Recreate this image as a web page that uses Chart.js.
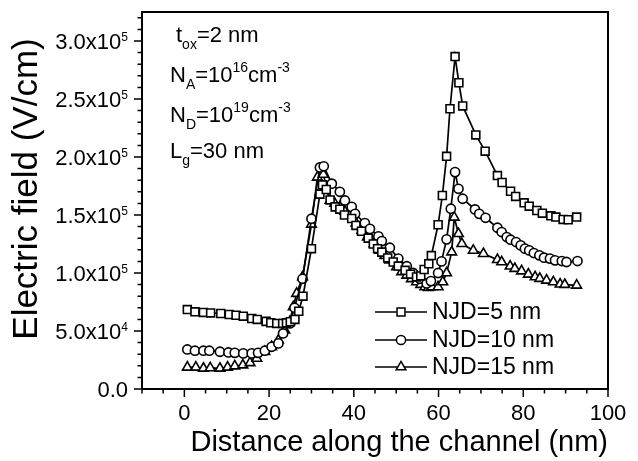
<!DOCTYPE html>
<html>
<head>
<meta charset="utf-8">
<script src="https://cdn.jsdelivr.net/npm/chart.js@4.4.1/dist/chart.umd.min.js"></script>
<style>
  html, body { margin: 0; padding: 0; background: #fff; }
  canvas { display: block; }
</style>
</head>
<body>
<canvas id="chart" width="638" height="461"></canvas>
<script>
const FONT = '"Liberation Sans", Arial, Helvetica, sans-serif';

// NJD = 5 nm (squares)
const xNJD5 = [0.7, 2.5, 4.5, 6.2, 8.6, 10.6, 12.2, 13.9, 15.9, 17.2, 19.3, 20.4, 21.8, 23.2, 24.1, 25.0, 26.1, 27.0, 28.0, 30.0,
  32.0, 32.6, 33.5, 34.4, 35.6, 36.7, 37.8, 39.5, 40.5, 41.8, 43.4, 44.6, 45.6, 46.6, 48.0, 49.3, 50.5, 52.1, 53.4, 54.8,
  55.8, 56.6, 57.7, 58.3, 59.9, 60.9, 61.9, 62.7, 63.9, 64.8, 65.7, 68.8, 71.0, 73.9, 75.0, 77.0, 78.2, 80.2, 81.4, 83.2,
  84.5, 86.5, 87.7, 89.4, 90.6, 92.6];
const yNJD5 = [68500, 66500, 66000, 65600, 65100, 64200, 63600, 62800, 60800, 60000, 58300, 57100, 56500, 56500, 57000, 58000, 60000, 67000, 80000, 121000,
  168000, 176000, 172000, 163000, 157000, 155000, 150000, 147000, 141000, 136000, 130000, 125000, 121000, 118000, 113000, 109500, 106000, 102300, 99000, 96600,
  97500, 103000, 108000, 115000, 141600, 166800, 200600, 241600, 286600, 264000, 244000, 219000, 205000, 184000, 178000, 170500, 166000, 160500, 157600, 153900,
  151600, 149300, 148200, 146200, 145900, 148200];

// NJD = 10 nm (circles)
const xNJD10 = [0.7, 2.5, 4.5, 5.9, 8.4, 10.4, 11.9, 13.9, 15.9, 17.4, 19.0, 20.6, 22.2, 23.3, 24.9, 26.0, 27.9, 30.0, 32.0, 32.9,
  34.8, 36.7, 37.9, 39.5, 40.3, 42.6, 43.8, 45.8, 46.6, 48.5, 50.5, 52.5, 54.0, 55.6, 57.2, 58.2, 59.9, 60.7, 61.9, 62.9,
  63.9, 64.7, 65.7, 68.6, 69.6, 71.1, 73.9, 74.9, 76.1, 77.0, 78.3, 79.4, 80.4, 81.4, 82.5, 83.8, 84.9, 86.3, 87.5, 89.1,
  90.2, 92.8];
const yNJD10 = [34100, 33000, 33000, 33000, 32100, 31500, 31200, 30700, 30700, 31200, 33000, 36400, 39300, 47900, 56500, 70000, 95000, 146800, 191000, 192000,
  177000, 170000, 162500, 157000, 151000, 143000, 138000, 131600, 127500, 121800, 112400, 105800, 100000, 95000, 91000, 93000, 100000, 110000, 129000, 155400,
  187000, 172600, 164000, 154800, 151000, 147600, 139000, 135300, 131000, 128700, 126700, 123800, 121000, 119500, 117200, 115200, 113200, 112400, 110900, 110300,
  109500, 110300];

// NJD = 15 nm (triangles)
const xNJD15 = [0.7, 2.7, 4.5, 6.1, 8.4, 10.2, 11.9, 13.8, 15.5, 17.1, 19.0, 20.6, 22.2, 23.7, 24.9, 25.7, 26.5, 27.9, 30.0, 31.4,
  32.8, 34.4, 35.5, 36.7, 37.9, 39.1, 40.5, 41.9, 43.2, 44.8, 46.2, 47.3, 48.5, 50.1, 51.3, 52.5, 53.6, 54.8, 55.8, 56.8,
  57.6, 58.4, 59.9, 61.0, 61.9, 63.1, 63.7, 64.7, 65.5, 68.2, 70.6, 73.9, 74.9, 76.9, 78.0, 79.6, 81.2, 82.8, 83.9, 85.5,
  87.1, 88.7, 89.8, 92.6];
const yNJD15 = [18700, 18700, 17800, 18200, 17800, 18700, 19800, 20600, 22600, 26400, 32100, 36400, 42100, 50700, 58000, 70800, 82300, 96600, 142000, 182500,
  185000, 162500, 160000, 157000, 153000, 149600, 143000, 136700, 131000, 125000, 119500, 115000, 111000, 105200, 101000, 98000, 95000, 92300, 90000, 88000,
  87400, 88000, 88000, 92300, 100000, 118000, 148000, 133900, 125300, 119500, 116700, 111500, 109500, 105800, 103800, 101700, 98900, 96600, 95200, 93700,
  92300, 90300, 90000, 89400];

const seriesNames = ['NJD=5 nm', 'NJD=10 nm', 'NJD=15 nm'];
const seriesMarkers = ['rect', 'circle', 'triangle'];
const markerRadius = [5.6, 4.6, 5.6];

const xTicks = [0, 20, 40, 60, 80, 100];
const yTicks = [0, 50000, 100000, 150000, 200000, 250000, 300000];
const yTickText = [['0.0', ''], ['5.0x10', '4'], ['1.0x10', '5'], ['1.5x10', '5'], ['2.0x10', '5'], ['2.5x10', '5'], ['3.0x10', '5']];
const yTitle = 'Electric field (V/cm)';

// text block in the upper left, pieces: [text, 'n' | 'sub' | 'sup']
const notes = [
  [['t', 'n'], ['ox', 'sub'], ['=2 nm', 'n']],
  [['N', 'n'], ['A', 'sub'], ['=10', 'n'], ['16', 'sup'], ['cm', 'n'], ['-3', 'sup']],
  [['N', 'n'], ['D', 'sub'], ['=10', 'n'], ['19', 'sup'], ['cm', 'n'], ['-3', 'sup']],
  [['L', 'n'], ['g', 'sub'], ['=30 nm', 'n']]
];

function toPoints(xs, ys) {
  return xs.map((x, i) => ({ x, y: ys[i] }));
}

function marker(ctx, style, r, x, y) {
  ctx.beginPath();
  if (style === 'rect') {
    const s = Math.SQRT1_2 * r;
    ctx.rect(x - s, y - s, 2 * s, 2 * s);
  } else if (style === 'circle') {
    ctx.arc(x, y, r, 0, Math.PI * 2);
  } else {
    let a = 0;
    ctx.moveTo(x + Math.sin(a) * r, y - Math.cos(a) * r);
    for (let k = 0; k < 2; k++) {
      a += Math.PI * 2 / 3;
      ctx.lineTo(x + Math.sin(a) * r, y - Math.cos(a) * r);
    }
    ctx.closePath();
  }
  ctx.fillStyle = '#fff';
  ctx.fill();
  ctx.stroke();
}

function drawRich(ctx, parts, x, y, size) {
  let cx = x;
  parts.forEach(([t, kind]) => {
    const small = kind !== 'n';
    ctx.font = `${small ? Math.round(size * 0.64) : size}px ${FONT}`;
    const dy = kind === 'sub' ? size * 0.32 : kind === 'sup' ? -size * 0.45 : 0;
    ctx.fillText(t, cx, y + dy);
    cx += ctx.measureText(t).width;
  });
}

const decor = {
  id: 'decor',
  afterDraw(chart) {
    const { ctx, chartArea: a, scales: { x, y } } = chart;
    ctx.save();
    ctx.strokeStyle = '#000';
    ctx.fillStyle = '#000';

    // frame
    ctx.lineWidth = 2;
    ctx.strokeRect(a.left, a.top, a.right - a.left, a.bottom - a.top);

    // tick marks (major + minor)
    ctx.lineWidth = 1.5;
    ctx.beginPath();
    for (let v = -10; v <= 100; v += 5) {
      const px = x.getPixelForValue(v);
      const len = v % 20 === 0 ? 8 : 4.5;
      ctx.moveTo(px, a.bottom);
      ctx.lineTo(px, a.bottom + len);
    }
    for (let v = 0; v <= 320000; v += 10000) {
      const py = y.getPixelForValue(v);
      const len = v % 50000 === 0 ? 8 : 4.5;
      ctx.moveTo(a.left, py);
      ctx.lineTo(a.left - len, py);
    }
    ctx.stroke();

    // x tick labels
    ctx.font = `22px ${FONT}`;
    ctx.textAlign = 'center';
    ctx.textBaseline = 'middle';
    xTicks.forEach(v => ctx.fillText(String(v), x.getPixelForValue(v), a.bottom + 25));

    // y tick labels with exponents
    ctx.textBaseline = 'alphabetic';
    ctx.textAlign = 'left';
    yTicks.forEach((v, i) => {
      const py = y.getPixelForValue(v);
      const [base, exp] = yTickText[i];
      ctx.font = `22px ${FONT}`;
      const wb = ctx.measureText(base).width;
      ctx.font = `12px ${FONT}`;
      const we = exp ? ctx.measureText(exp).width : 0;
      const x0 = a.left - 14 - wb - we;
      ctx.font = `22px ${FONT}`;
      ctx.fillText(base, x0, py + 8);
      if (exp) {
        ctx.font = `12px ${FONT}`;
        ctx.fillText(exp, x0 + wb, py - 0.5);
      }
    });

    // y title
    ctx.save();
    ctx.translate(27, 189);
    ctx.rotate(-Math.PI / 2);
    ctx.font = `35px ${FONT}`;
    ctx.textAlign = 'center';
    ctx.textBaseline = 'middle';
    ctx.fillText(yTitle, 0, 0);
    ctx.restore();

    // notes
    const noteY = [42, 82, 122, 158];
    const noteX = [176, 170, 170, 170];
    notes.forEach((parts, i) => drawRich(ctx, parts, noteX[i], noteY[i], 22));

    // legend
    const rowY = [312, 340, 367];
    ctx.lineWidth = 1.6;
    seriesNames.forEach((name, i) => {
      ctx.beginPath();
      ctx.moveTo(375, rowY[i]);
      ctx.lineTo(427, rowY[i]);
      ctx.stroke();
      ctx.lineWidth = 1.5;
      marker(ctx, seriesMarkers[i], markerRadius[i], 401, rowY[i]);
      ctx.lineWidth = 1.6;
      ctx.fillStyle = '#000';
      ctx.font = `23px ${FONT}`;
      ctx.textBaseline = 'middle';
      ctx.fillText(name, 432, rowY[i] + 1);
    });
    ctx.restore();
  }
};

const datasets = [
  [xNJD5, yNJD5], [xNJD10, yNJD10], [xNJD15, yNJD15]
].map(([xs, ys], i) => ({
  label: seriesNames[i],
  data: toPoints(xs, ys),
  showLine: true,
  borderColor: '#000',
  borderWidth: 1.7,
  pointStyle: seriesMarkers[i],
  pointRadius: markerRadius[i],
  pointBackgroundColor: '#fff',
  pointBorderColor: '#000',
  pointBorderWidth: 1.6
}));

new Chart(document.getElementById('chart'), {
  type: 'scatter',
  data: { datasets },
  options: {
    responsive: false,
    animation: false,
    layout: { padding: { left: 0, right: 30, top: 12, bottom: 0 } },
    plugins: { legend: { display: false }, tooltip: { enabled: false } },
    scales: {
      x: {
        type: 'linear',
        min: -10,
        max: 100,
        afterBuildTicks: s => { s.ticks = xTicks.map(v => ({ value: v })); },
        afterFit: s => { s.height = 72; },
        grid: { display: false },
        border: { display: false },
        ticks: { display: false },
        title: {
          display: true,
          text: 'Distance along the channel (nm)',
          align: 'end',
          color: '#000',
          font: { family: FONT, size: 29 },
          padding: { top: 0, bottom: 1 }
        }
      },
      y: {
        type: 'linear',
        min: 0,
        max: 325000,
        afterBuildTicks: s => { s.ticks = yTicks.map(v => ({ value: v })); },
        afterFit: s => { s.width = 142; },
        grid: { display: false },
        border: { display: false },
        ticks: { display: false }
      }
    }
  },
  plugins: [decor]
});
</script>
</body>
</html>
